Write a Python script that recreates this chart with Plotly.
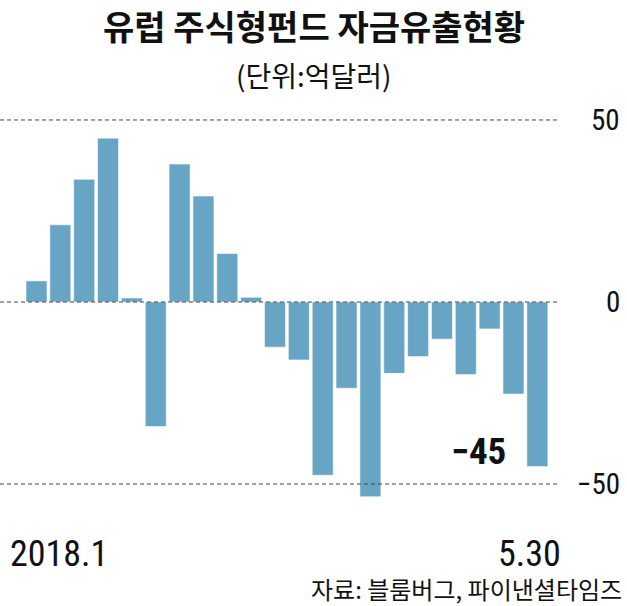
import plotly.graph_objects as go

# ---- data ----
flows = [5.8, 21.2, 33.7, 45.0, 1.1, -34.2, 37.9, 29.1, 13.3, 1.3,
         -12.4, -15.9, -47.6, -23.7, -53.5, -19.6, -15.0, -10.2, -19.9,
         -7.4, -25.3, -45.2]
period_index = list(range(len(flows)))
start_label = "2018.1"
end_label = "5.30"
last_value_label = "−45"
y_tickvals = [50, 0, -50]
y_ticktext = ["50", "0", "−50"]

title_text = "유럽 주식형펀드 자금유출현황"
unit_text = "(단위:억달러)"
source_text = "자료: 블룸버그, 파이낸셜타임즈"

BAR = "#68a4c4"
NARROW = "Liberation Sans Narrow, Arial Narrow, Roboto Condensed, sans-serif"
KR = "Noto Sans CJK KR, sans-serif"
PLOT_W = 560

fig = go.Figure()
fig.add_trace(go.Bar(
    x=period_index, y=flows,
    marker=dict(color=BAR, line=dict(color="rgba(255,255,255,0.55)", width=1)),
    hoverinfo="skip",
))

shapes = []
for v in y_tickvals:
    shapes.append(dict(type="line", xref="paper", x0=0, x1=1, yref="y", y0=v, y1=v,
                       line=dict(color="#444444", width=1, dash="4px,3px"), layer="above"))

annotations = []
for v, t in zip(y_tickvals, y_ticktext):
    annotations.append(dict(text=t, xref="paper", x=1, xanchor="right", xshift=62,
                            yref="y", y=v, yanchor="middle", showarrow=False,
                            font=dict(family=NARROW, size=29, color="#111111")))

center_x = 313.5 / PLOT_W
annotations += [
    dict(text="<b>" + title_text + "</b>", xref="paper", yref="paper", x=center_x,
         y=1, yshift=75, xanchor="center", yanchor="middle", showarrow=False,
         font=dict(family=KR, size=34, color="#111111")),
    dict(text=unit_text, xref="paper", yref="paper", x=center_x, y=1, yshift=25,
         xanchor="center", yanchor="middle", showarrow=False,
         font=dict(family=KR, size=28, color="#111111")),
    dict(text=start_label, xref="paper", yref="paper", x=0, xshift=8, y=0, yshift=-44,
         xanchor="left", yanchor="middle", showarrow=False,
         font=dict(family=NARROW, size=36, color="#111111")),
    dict(text=end_label, xref="paper", yref="paper", x=1, xshift=3, y=0, yshift=-44,
         xanchor="right", yanchor="middle", showarrow=False,
         font=dict(family=NARROW, size=36, color="#111111")),
    dict(text=source_text, xref="paper", yref="paper", x=1, xshift=64, y=0, yshift=-78,
         xanchor="right", yanchor="middle", showarrow=False,
         font=dict(family=KR, size=24, color="#111111")),
    dict(text="<b>" + last_value_label + "</b>", xref="x", yref="y",
         x=period_index[-1], y=flows[-1], xshift=-29, yshift=15,
         xanchor="right", yanchor="middle", showarrow=False,
         font=dict(family=NARROW, size=37, color="#111111")),
]

fig.update_layout(
    width=627, height=606,
    margin=dict(l=0, r=627 - PLOT_W, t=100, b=96),
    paper_bgcolor="white", plot_bgcolor="white",
    bargap=0.12,
    showlegend=False,
    shapes=shapes,
    annotations=annotations,
    xaxis=dict(range=[-1.53, 21.95], showgrid=False, zeroline=False,
               showticklabels=False, ticks="", showline=False, fixedrange=True),
    yaxis=dict(range=[-57.14, 55.49], showgrid=False, zeroline=False,
               showticklabels=False, ticks="", showline=False, fixedrange=True),
)

fig.write_html("out.html", config={"displayModeBar": False},
               post_script="document.body.style.margin='0';")
